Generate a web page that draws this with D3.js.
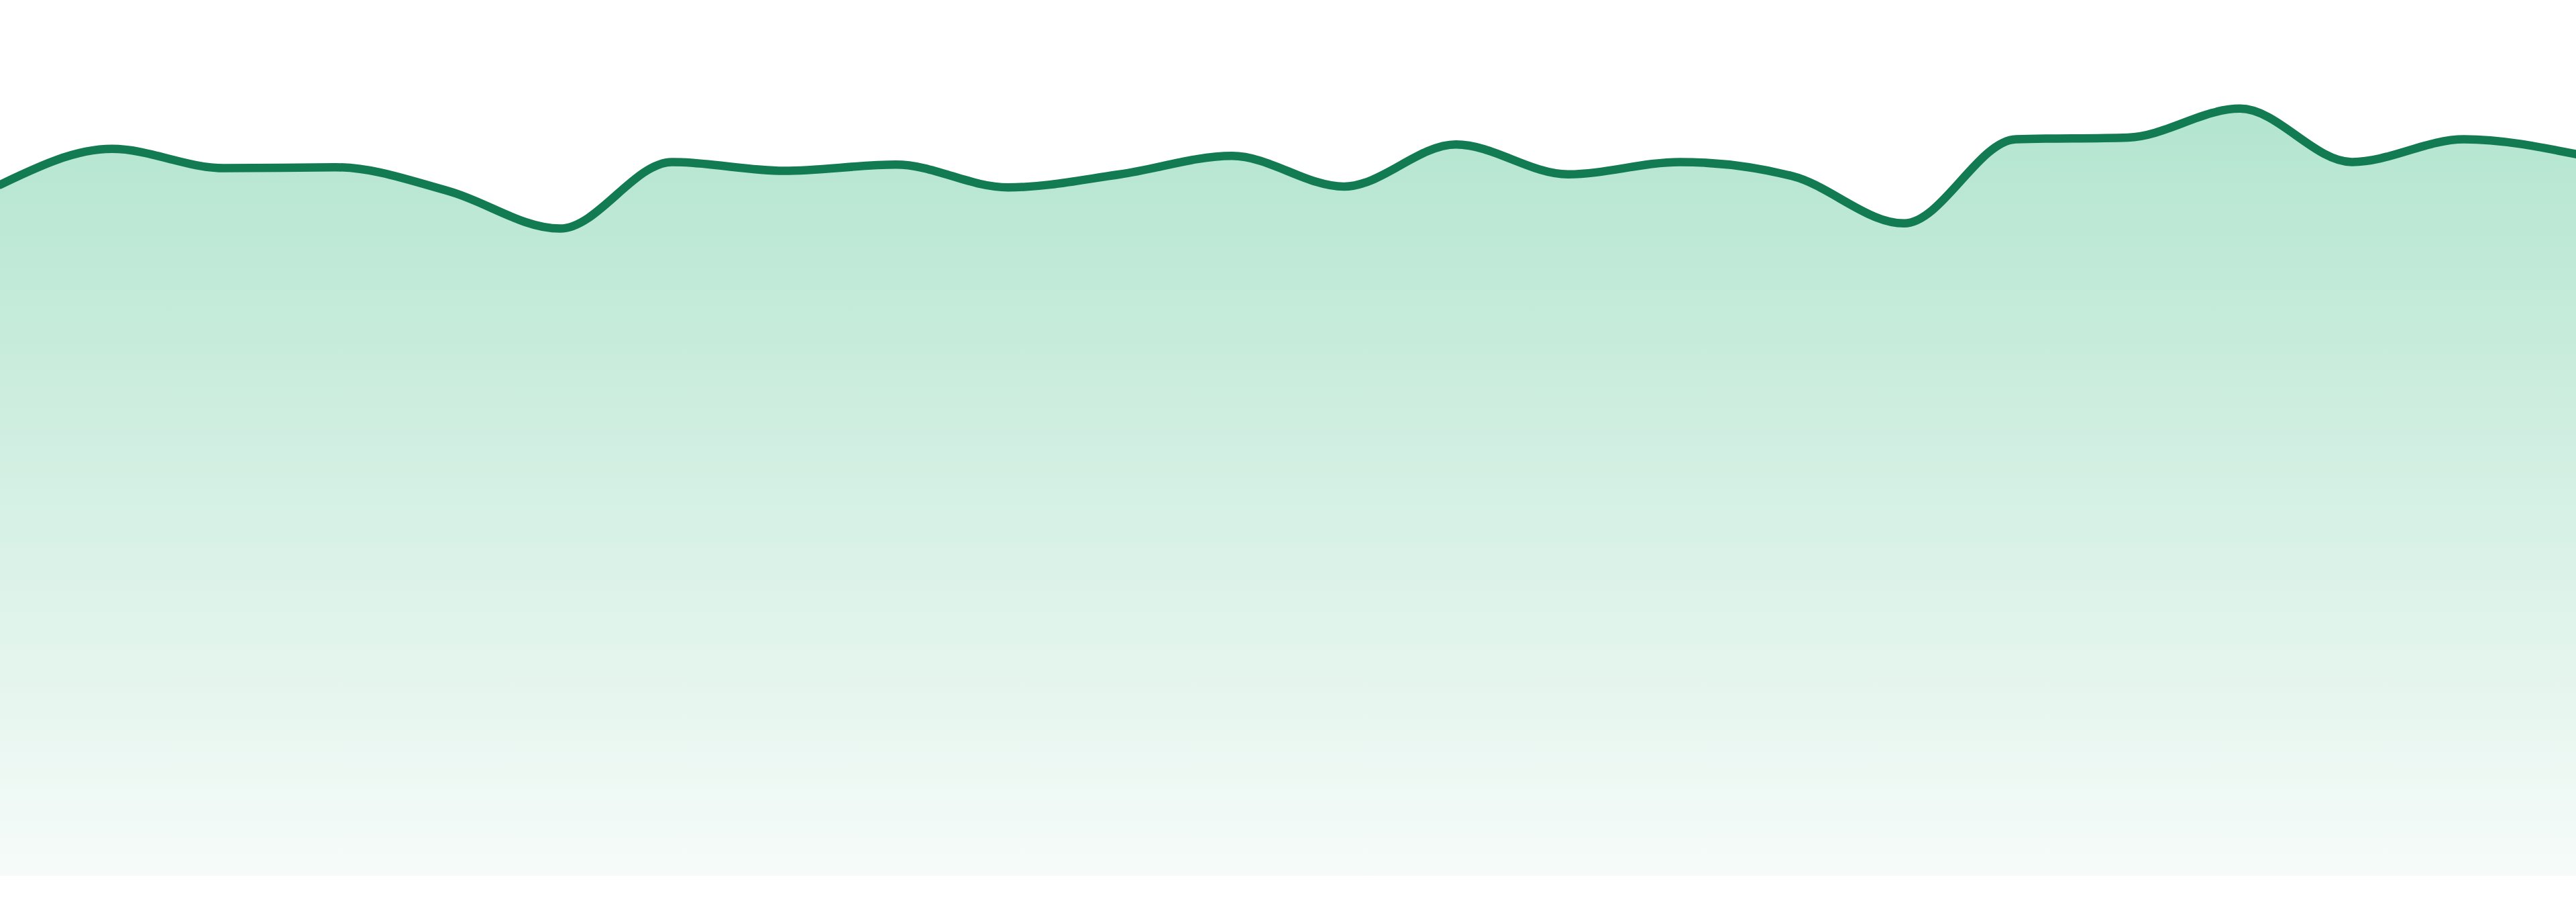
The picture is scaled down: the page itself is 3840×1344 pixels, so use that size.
<!DOCTYPE html>
<html>
<head>
<meta charset="utf-8">
<script src="https://cdn.jsdelivr.net/npm/d3@7"></script>
<style>
  html, body { margin: 0; padding: 0; background: #ffffff; }
  svg { display: block; }
</style>
</head>
<body>
<div id="chart"></div>
<script>
const WIDTH = 3840;
const HEIGHT = 1344;
const MARGIN = { top: 0, right: 0, bottom: 39, left: 0 };
const INNER_WIDTH = WIDTH - MARGIN.left - MARGIN.right;
const INNER_HEIGHT = HEIGHT - MARGIN.top - MARGIN.bottom;

const COLOR_LINE = "#137b52";

// one point per day
const days = d3.range(1, 25).map(d => "D" + d);
const values = [
  78.9, 83.0, 80.8, 80.9, 78.2, 73.9, 81.5, 80.5,
  81.2, 78.6, 80.1, 82.2, 78.7, 83.5, 80.1, 81.5,
  79.9, 74.5, 84.1, 84.3, 87.6, 81.5, 84.1, 82.4
];

const data = days.map((d, i) => ({ day: d, value: values[i] }));

function createChart(data) {
    d3.select("#chart").selectAll("*").remove();

    const root = d3.select("#chart")
        .append("svg")
        .attr("width", WIDTH)
        .attr("height", HEIGHT)
        .attr("viewBox", `0 0 ${WIDTH} ${HEIGHT}`);

    const svg = root.append("g")
        .attr("transform", `translate(${MARGIN.left},${MARGIN.top})`);

    // X scale
    const x = d3.scalePoint()
        .domain(data.map(d => d.day))
        .range([0, INNER_WIDTH]);

    // Y scale
    const y = d3.scaleLinear()
        .domain([0, 100])
        .range([INNER_HEIGHT, 0]);

    // --- Gradient ---
    const grad = root.append("defs")
        .append("linearGradient")
        .attr("id", "areaFill")
        .attr("gradientUnits", "userSpaceOnUse")
        .attr("x1", 0).attr("x2", 0)
        .attr("y1", y(d3.max(data, d => d.value)))
        .attr("y2", INNER_HEIGHT);
    grad.append("stop").attr("offset", "0%").attr("stop-color", "#b3e5cf");
    grad.append("stop").attr("offset", "100%").attr("stop-color", "#f6fbf9");

    // --- Area ---
    const area = d3.area()
        .x(d => x(d.day))
        .y0(INNER_HEIGHT)
        .y1(d => y(d.value))
        .curve(d3.curveMonotoneX);

    svg.append("path")
        .datum(data)
        .attr("fill", "url(#areaFill)")
        .attr("d", area);

    // --- Line ---
    const line = d3.line()
        .x(d => x(d.day))
        .y(d => y(d.value))
        .curve(d3.curveMonotoneX);

    svg.append("path")
        .datum(data)
        .attr("fill", "none")
        .attr("stroke", COLOR_LINE)
        .attr("stroke-width", 12.5)
        .attr("stroke-linejoin", "round")
        .attr("stroke-linecap", "round")
        .attr("d", line);
}

createChart(data);
</script>
</body>
</html>
